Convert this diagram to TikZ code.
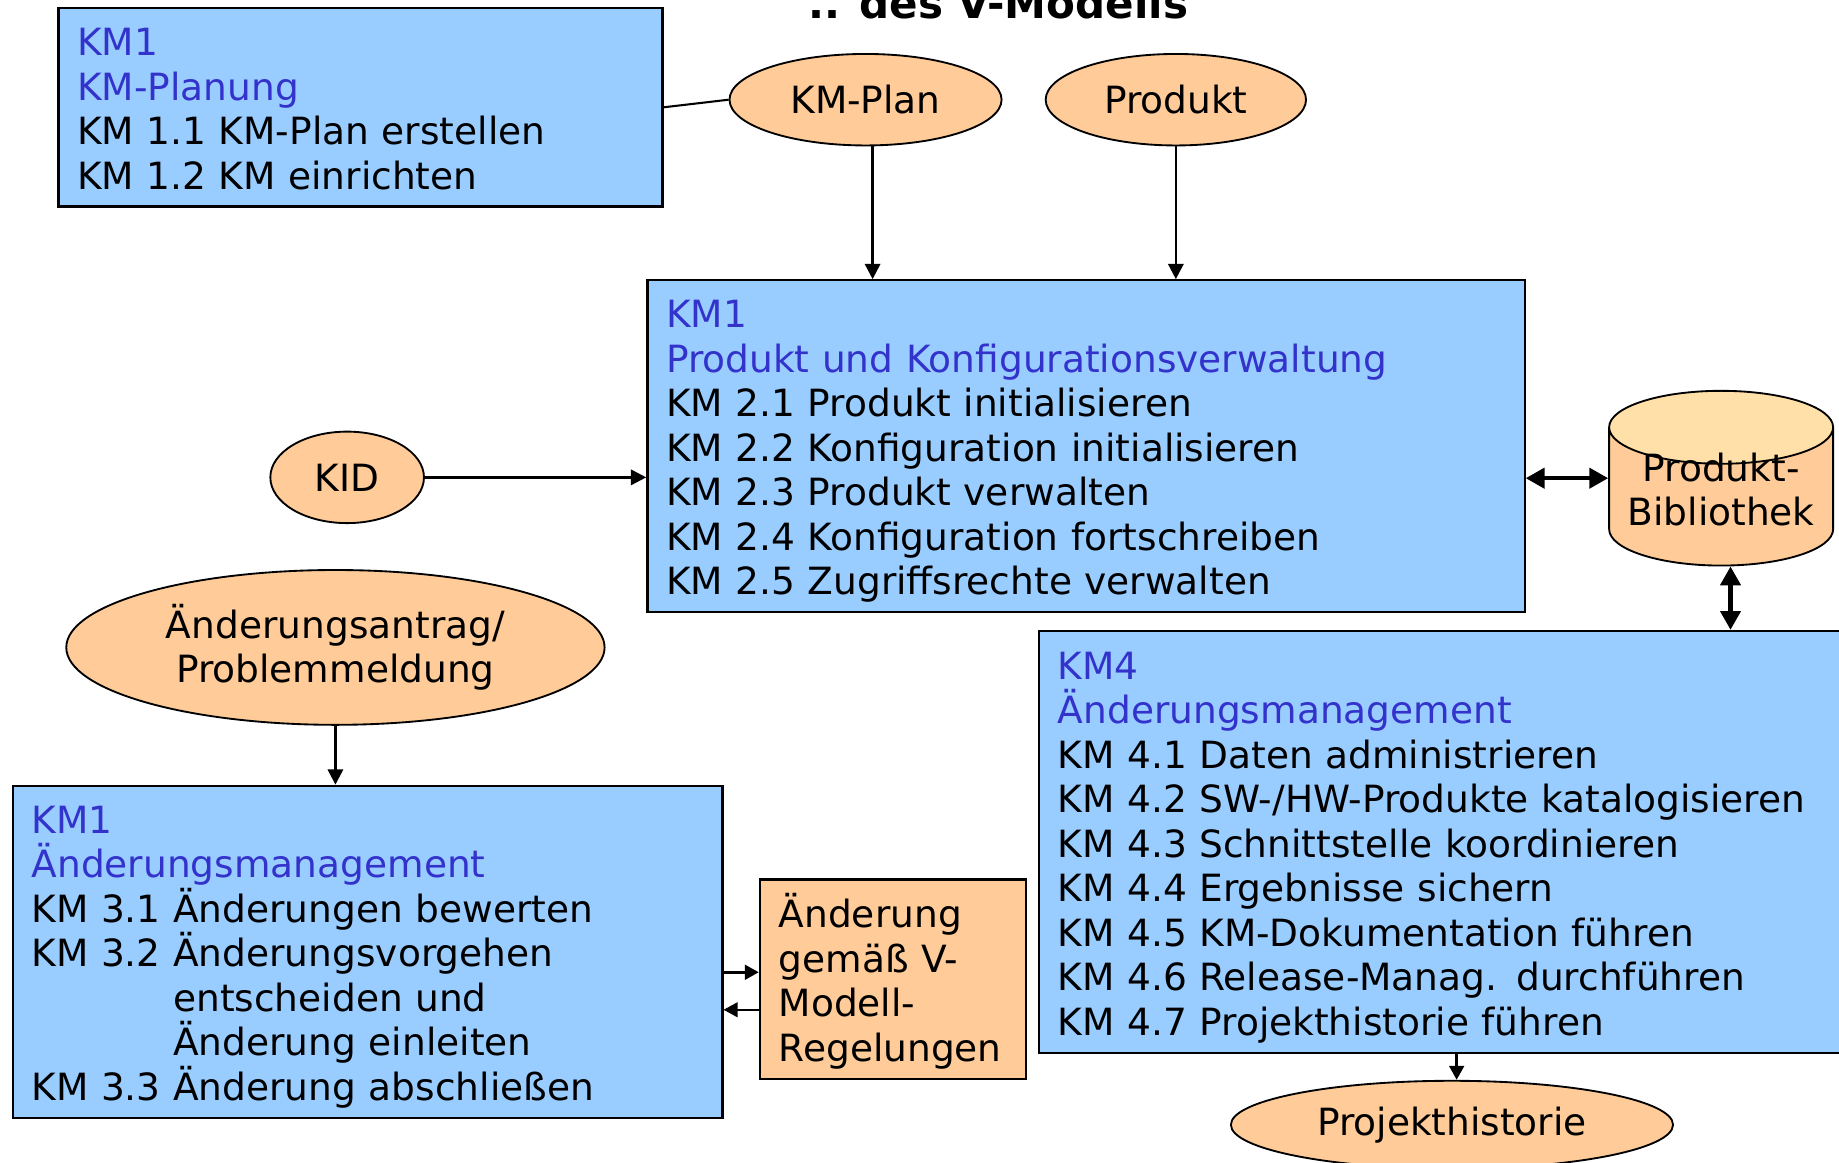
\documentclass[tikz,border=0pt]{standalone}
\usepackage{fontspec}
\setmainfont{DejaVu Sans}
\usetikzlibrary{arrows.meta,positioning,shapes.geometric}
\definecolor{boxblue}{HTML}{99CCFF}
\definecolor{headblue}{HTML}{3333CC}
\definecolor{peach}{HTML}{FFCC99}
\definecolor{peachtop}{HTML}{FFE0A8}
\newcommand{\kmfont}{\fontsize{9.1}{10.8}\selectfont}
\newcommand{\kmhead}[1]{\textcolor{headblue}{#1}}
\newcommand{\kmtop}{\rule{0pt}{3.7mm}}

\begin{document}
\begin{tikzpicture}[x=0.1mm,y=-0.1mm,semithick,
      >={Triangle[length=1.3mm,width=1.3mm]},
      km/.style={draw,line width=0.55pt,fill=boxblue,anchor=north west,
        align=left,inner xsep=1.6mm,inner ysep=0pt,font=\kmfont},
      doc/.style={draw,ellipse,line width=0.45pt,fill=peach,inner sep=0pt,
        font=\kmfont},
      flow/.style={->,line width=0.6pt},
      dbl/.style={{Triangle[length=1.6mm,width=1.7mm]}-{Triangle[length=1.6mm,width=1.7mm]},
        line width=1pt},
      med/.style={-{Triangle[length=1.2mm,width=1.25mm]},line width=0.75pt}]
  \useasboundingbox (0,0) rectangle (1568,991);
  \node[font=\bfseries\fontsize{10.2}{12}\selectfont,anchor=base] (title) at (851,15.6) {.. des V-Modells};

  % boxes
  \node[km,text width=48.3mm,minimum height=16.9mm] (km1) at (49,6)
    {\kmtop\kmhead{KM1}\\ \kmhead{KM-Planung}\\ KM 1.1 KM-Plan erstellen\\ KM 1.2 KM einrichten\strut};
  \node[km,text width=71.6mm,minimum height=28.3mm] (km2) at (551,238)
    {\kmtop\kmhead{KM1}\\ \kmhead{Produkt und Konfigurationsverwaltung}\\
     KM 2.1 Produkt initialisieren\\ KM 2.2 Konfiguration initialisieren\\
     KM 2.3 Produkt verwalten\\ KM 2.4 Konfiguration fortschreiben\\
     KM 2.5 Zugriffsrechte verwalten\strut};
  \node[km,text width=57.3mm,minimum height=28.3mm] (km3) at (10,669)
    {\kmtop\kmhead{KM1}\\ \kmhead{Änderungsmanagement}\\
     KM 3.1 Änderungen bewerten\\ KM 3.2 Änderungsvorgehen\\
     \hphantom{KM 3.2 }entscheiden und\\ \hphantom{KM 3.2 }Änderung einleiten\\
     KM 3.3 Änderung abschließen\strut};
  \node[km,text width=68.8mm,minimum height=36mm] (km4) at (885,537)
    {\kmtop\kmhead{KM4}\\ \kmhead{Änderungsmanagement}\\
     KM 4.1 Daten administrieren\\ KM 4.2 SW-/HW-Produkte katalogisieren\\
     KM 4.3 Schnittstelle koordinieren\\ KM 4.4 Ergebnisse sichern\\
     KM 4.5 KM-Dokumentation führen\\ KM 4.6 Release-Manag. durchführen\\
     KM 4.7 Projekthistorie führen\strut};
  \node[km,fill=peach,text width=19.5mm,minimum height=17mm] (aend) at (647,749)
    {\kmtop Änderung\\ gemäß V-\\ Modell-\\ Regelungen\strut};

  % documents
  \node[doc,minimum width=23.2mm,minimum height=7.8mm] (plan) at (738,85) {KM-Plan};
  \node[doc,minimum width=22.2mm,minimum height=7.8mm] (prod) [right=3.6mm of plan] {Produkt};
  \node[doc,minimum width=13.1mm,minimum height=7.8mm] (kid) at (296,407) {KID};
  \node[doc,minimum width=45.9mm,minimum height=13.2mm,align=center] (antrag) at (286,552)
    {Änderungsantrag/\\Problemmeldung};
  \node[doc,minimum width=37.7mm,minimum height=7.5mm] (hist) at (1238,959) {Projekthistorie};
  \node[draw,cylinder,shape border rotate=90,aspect=0.39,line width=0.45pt,
    cylinder uses custom fill,cylinder body fill=peach,cylinder end fill=peachtop,
    minimum width=19.1mm,minimum height=14.9mm,inner sep=0pt,font=\kmfont,
    anchor=south] (lib) at (1467.5,483)
    {\raisebox{-1.2mm}{\smash{\begin{tabular}{@{}c@{}}Produkt-\\Bibliothek\end{tabular}}}};

  % connectors
  \draw[line width=0.5pt] (km1.east) -- (plan.west);
  \draw[flow] ([xshift=0.6mm]plan.south) -- ([xshift=0.6mm]plan.south |- km2.north);
  \draw[flow] (prod) -- (prod |- km2.north);
  \draw[flow] (kid) -- (kid -| km2.west);
  \draw[flow] (antrag) -- (antrag |- km3.north);
  \draw[dbl] (km2.east |- lib.shape center) -- (lib.west |- lib.shape center);
  \draw[dbl] ([xshift=0.8mm]lib.south) -- ([xshift=0.8mm]lib.south |- km4.north);
  \draw[med] ([yshift=0.6mm]km3.east |- aend) -- ([yshift=0.6mm]aend.west);
  \draw[med,line width=0.55pt] ([yshift=-2.6mm]aend.west) -- ([yshift=-2.6mm]km3.east |- aend);
  \draw[med] ([xshift=0.4mm]hist.north |- km4.south) -- ([xshift=0.4mm]hist.north);
\end{tikzpicture}
\end{document}
